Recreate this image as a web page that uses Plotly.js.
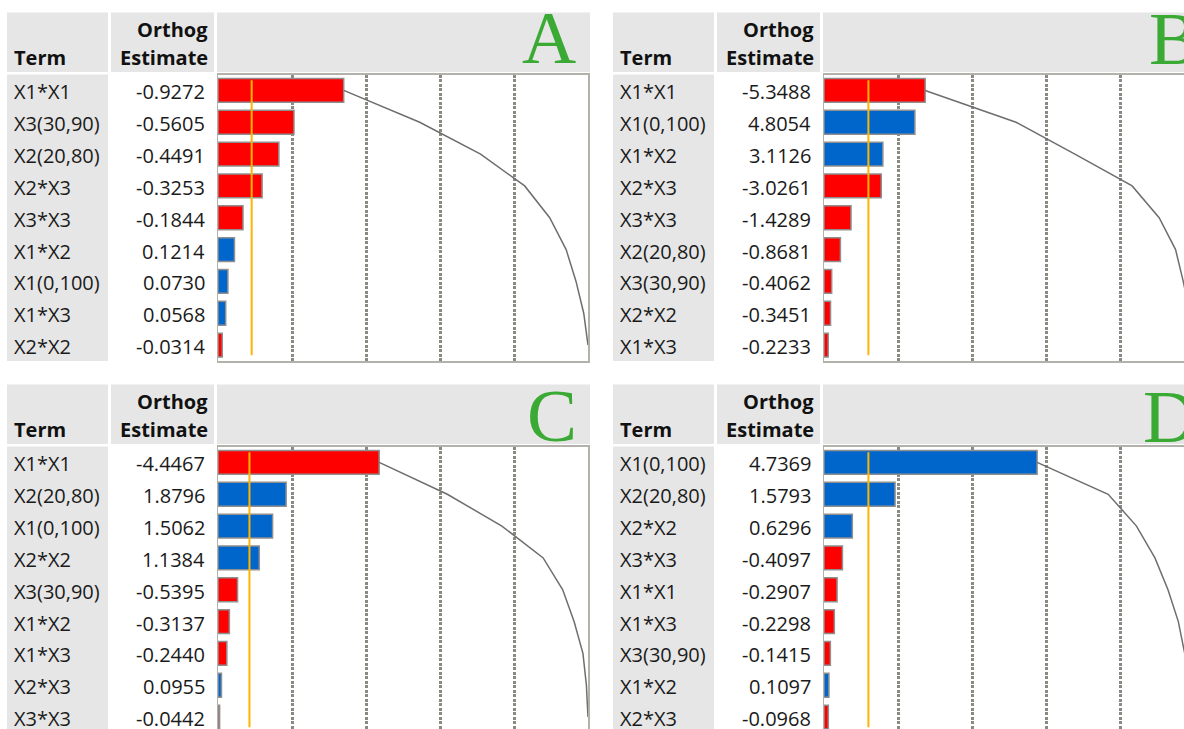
<!DOCTYPE html>
<html>
<head>
<meta charset="utf-8">
<script src="https://cdn.plot.ly/plotly-3.0.1.min.js"></script>
<style>
  html, body { margin: 0; padding: 0; width: 1184px; height: 729px; overflow: hidden; background: #ffffff; }
  #chart { width: 1200px; height: 740px; }
</style>
</head>
<body>
<div id="chart"></div>
<script>
// Orthogonal estimates for the four responses (Pareto order)
const termsA = ['X1*X1', 'X3(30,90)', 'X2(20,80)', 'X2*X3', 'X3*X3', 'X1*X2', 'X1(0,100)', 'X1*X3', 'X2*X2'];
const estA   = [-0.9272, -0.5605, -0.4491, -0.3253, -0.1844, 0.1214, 0.0730, 0.0568, -0.0314];

const termsB = ['X1*X1', 'X1(0,100)', 'X1*X2', 'X2*X3', 'X3*X3', 'X2(20,80)', 'X3(30,90)', 'X2*X2', 'X1*X3'];
const estB   = [-5.3488, 4.8054, 3.1126, -3.0261, -1.4289, -0.8681, -0.4062, -0.3451, -0.2233];

const termsC = ['X1*X1', 'X2(20,80)', 'X1(0,100)', 'X2*X2', 'X3(30,90)', 'X1*X2', 'X1*X3', 'X2*X3', 'X3*X3'];
const estC   = [-4.4467, 1.8796, 1.5062, 1.1384, -0.5395, -0.3137, -0.2440, 0.0955, -0.0442];

const termsD = ['X1(0,100)', 'X2(20,80)', 'X2*X2', 'X3*X3', 'X1*X1', 'X1*X3', 'X3(30,90)', 'X1*X2', 'X2*X3'];
const estD   = [4.7369, 1.5793, 0.6296, -0.4097, -0.2907, -0.2298, -0.1415, 0.1097, -0.0968];

const panelLetters = ['A', 'B', 'C', 'D'];
// reference line, in percent of the total absolute effect
const refPct = [9.1, 12.0, 8.5, 12.0];
// percent gridlines of the Pareto scale
const gridPct = [20, 40, 60, 80];

const headerTerm = 'Term';
const headerEst1 = 'Orthog';
const headerEst2 = 'Estimate';

// ---- page geometry (pixels) ----
const W = 1200, H = 740;
const px = v => v / W;
const py = v => 1 - v / H;
const offX = [0, 606, 0, 606];
const offY = [0, 0, 372, 372];
const letterLeft = [520, 1147, 525, 1141];
const letterMid  = [37, 38, 415.5, 416];

const RED = '#ff0000', BLUE = '#0066cc';
const HEAD_GRAY = '#e6e6e6';
const FONT = '"Open Sans", "Noto Sans", sans-serif';
const FS = 20;

const panels = [
  { terms: termsA, est: estA },
  { terms: termsB, est: estB },
  { terms: termsC, est: estC },
  { terms: termsD, est: estD }
];

const data = [];
const layout = {
  width: W, height: H,
  margin: { l: 0, r: 0, t: 0, b: 0 },
  paper_bgcolor: '#ffffff',
  plot_bgcolor: '#ffffff',
  showlegend: false,
  hovermode: false,
  font: { family: FONT, size: FS, color: '#1a1a1a' },
  shapes: [],
  annotations: []
};

panels.forEach((p, i) => {
  const dx = offX[i], dy = offY[i];
  const xa = i === 0 ? 'x' : 'x' + (i + 1);
  const ya = i === 0 ? 'y' : 'y' + (i + 1);
  const xKey = i === 0 ? 'xaxis' : 'xaxis' + (i + 1);
  const yKey = i === 0 ? 'yaxis' : 'yaxis' + (i + 1);

  const total = p.est.reduce((s, v) => s + Math.abs(v), 0);
  const share = p.est.map(v => Math.abs(v) / total * 100);
  const cum = [];
  share.reduce((s, v) => { cum.push(s + v); return s + v; }, 0);

  layout[xKey] = {
    domain: [px(218 + dx), px(588 + dx)],
    range: [0, 100],
    anchor: ya,
    tickvals: gridPct,
    showticklabels: false,
    ticks: '',
    showgrid: true,
    gridcolor: '#8a8a82',
    gridwidth: 3,
    griddash: '3px,1.5px',
    zeroline: false,
    showline: true,
    mirror: true,
    linecolor: '#b2b2aa',
    linewidth: 1.5,
    fixedrange: true
  };
  layout[yKey] = {
    domain: [py(361 + dy), py(74.5 + dy)],
    type: 'category',
    categoryorder: 'array',
    categoryarray: p.terms,
    range: [p.terms.length - 0.5, -0.5],
    anchor: xa,
    showticklabels: false,
    ticks: '',
    showgrid: false,
    zeroline: false,
    showline: true,
    mirror: true,
    linecolor: '#b2b2aa',
    linewidth: 1.5,
    fixedrange: true
  };

  // Pareto bars of the absolute estimates, coloured by sign
  data.push({
    type: 'bar',
    orientation: 'h',
    x: share,
    y: p.terms,
    xaxis: xa, yaxis: ya,
    width: 0.75,
    marker: {
      color: p.est.map(v => v < 0 ? RED : BLUE),
      line: { color: '#8f8f8f', width: 1.5 }
    }
  });

  // cumulative percentage curve
  data.push({
    type: 'scatter',
    mode: 'lines',
    x: cum,
    y: p.terms,
    xaxis: xa, yaxis: ya,
    line: { color: '#6e6e6e', width: 1.5 }
  });

  // reference line
  layout.shapes.push({
    type: 'line', xref: xa, yref: ya,
    x0: refPct[i], x1: refPct[i], y0: -0.32, y1: p.terms.length - 0.68,
    line: { color: '#ffb400', width: 2 },
    layer: 'above'
  });

  // table header cells
  [[7, 108], [111, 214], [217, 590]].forEach(c => {
    layout.shapes.push({
      type: 'rect', xref: 'paper', yref: 'paper', layer: 'below',
      x0: px(c[0] + dx), x1: px(c[1] + dx), y0: py(72 + dy), y1: py(12.5 + dy),
      fillcolor: HEAD_GRAY, line: { width: 0 }
    });
  });
  // term column body
  layout.shapes.push({
    type: 'rect', xref: 'paper', yref: 'paper', layer: 'below',
    x0: px(7 + dx), x1: px(108 + dx), y0: py(361 + dy), y1: py(74.5 + dy),
    fillcolor: HEAD_GRAY, line: { width: 0 }
  });

  // header texts
  const bold = { family: FONT, size: FS, color: '#111111', weight: 700 };
  layout.annotations.push(
    { xref: 'paper', yref: 'paper', x: px(12 + dx), y: py(58 + dy), xanchor: 'left', yanchor: 'middle',
      text: '<b>' + headerTerm + '</b>', showarrow: false, font: bold },
    { xref: 'paper', yref: 'paper', x: px(210 + dx), y: py(29 + dy), xanchor: 'right', yanchor: 'middle',
      text: '<b>' + headerEst1 + '</b>', showarrow: false, font: bold },
    { xref: 'paper', yref: 'paper', x: px(210 + dx), y: py(58 + dy), xanchor: 'right', yanchor: 'middle',
      text: '<b>' + headerEst2 + '</b>', showarrow: false, font: bold }
  );

  // row texts: term names and estimates
  p.terms.forEach((t, k) => {
    layout.annotations.push({
      xref: 'paper', yref: ya, x: px(12 + dx), y: k, yshift: -1.5,
      xanchor: 'left', yanchor: 'middle', text: t, showarrow: false,
      font: { family: FONT, size: FS, color: '#1a1a1a' }
    });
    layout.annotations.push({
      xref: 'paper', yref: ya, x: px(207 + dx), y: k, yshift: -1.5,
      xanchor: 'right', yanchor: 'middle', text: p.est[k].toFixed(4), showarrow: false,
      font: { family: FONT, size: FS, color: '#1a1a1a' }
    });
  });

  // panel letter
  layout.annotations.push({
    xref: 'paper', yref: 'paper', x: px(letterLeft[i]), y: py(letterMid[i]),
    xanchor: 'left', yanchor: 'middle', text: panelLetters[i], showarrow: false,
    font: { family: '"Liberation Serif", "DejaVu Serif", serif', size: 75, color: '#3aaa35' }
  });
});

Plotly.newPlot('chart', data, layout, { staticPlot: true, displayModeBar: false });
</script>
</body>
</html>
